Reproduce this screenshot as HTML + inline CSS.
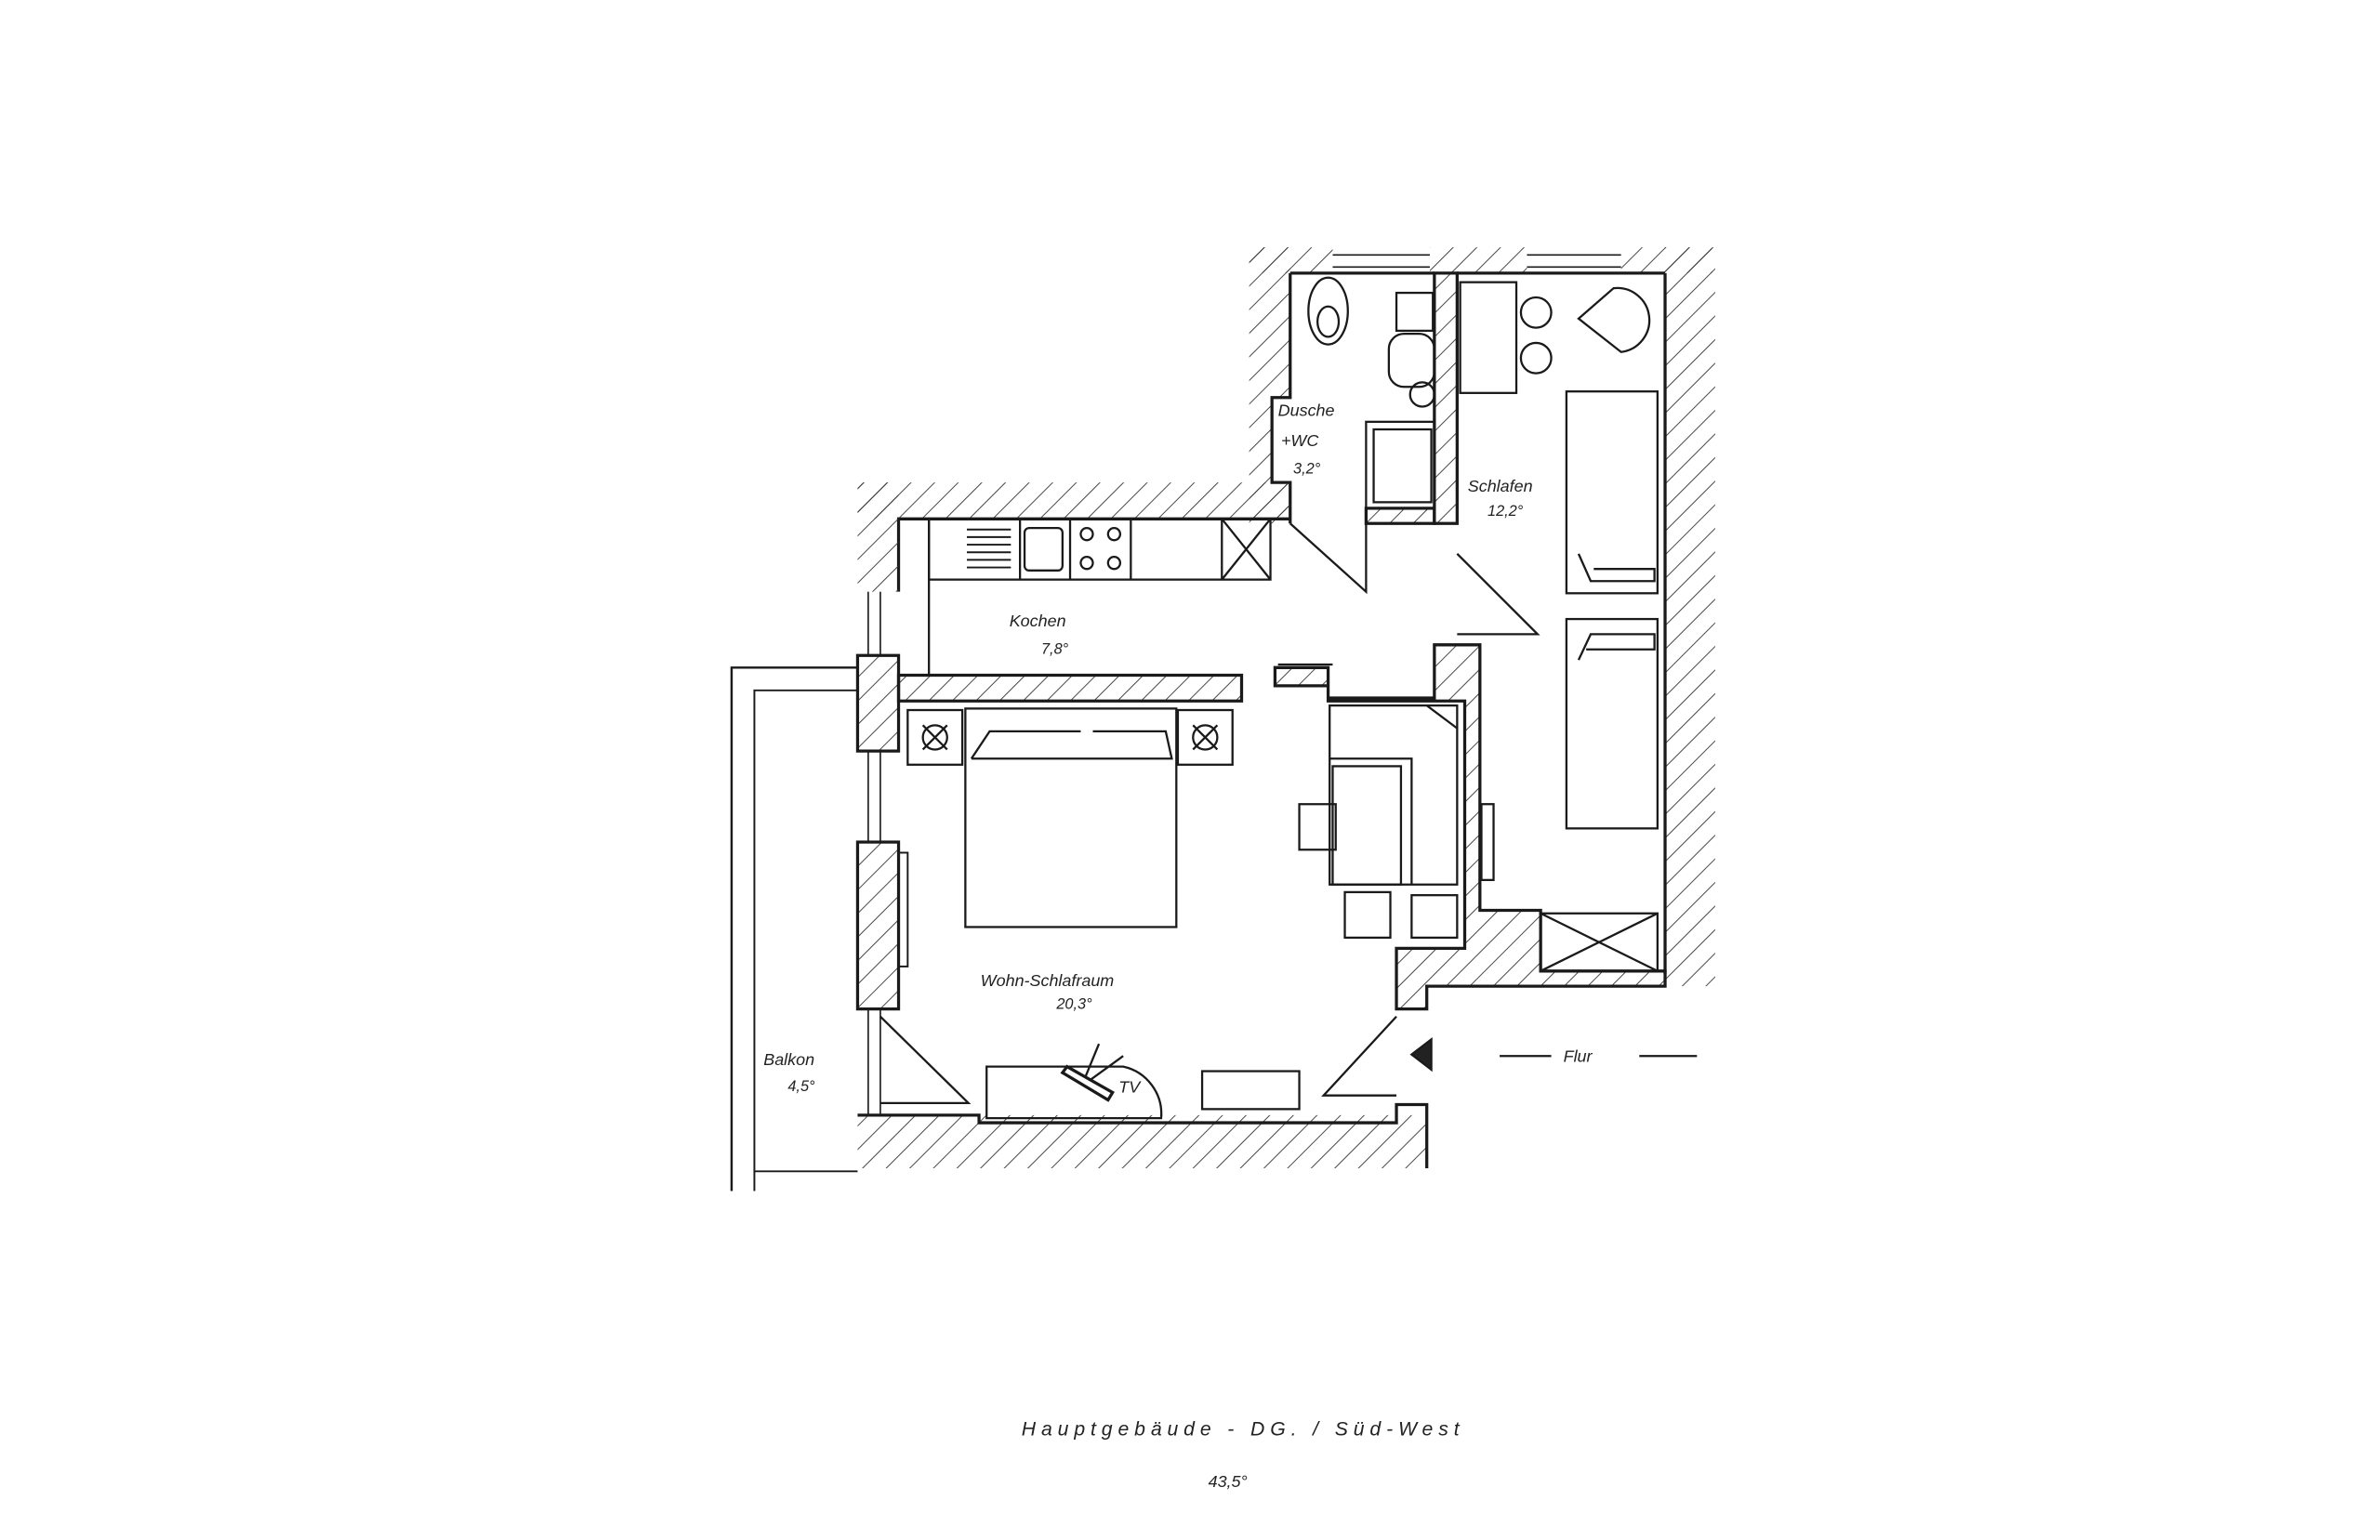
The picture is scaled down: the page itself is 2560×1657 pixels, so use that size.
<!DOCTYPE html>
<html><head><meta charset="utf-8"><style>
html,body{margin:0;padding:0;background:#fff;}
svg{display:block;}
text{font-family:"Liberation Sans",sans-serif;font-style:italic;fill:#222;}
</style></head><body>
<svg width="2560" height="1657" viewBox="0 0 1568 1015" preserveAspectRatio="none" xmlns="http://www.w3.org/2000/svg">
<defs>
<pattern id="h" width="11" height="11" patternUnits="userSpaceOnUse" patternTransform="rotate(45)">
<line x1="0" y1="0" x2="0" y2="11" stroke="#333" stroke-width="1.1"/>
</pattern>
</defs>
<rect width="1568" height="1015" fill="#fff"/>
<g stroke="#1a1a1a" stroke-width="2" fill="url(#h)">
<polygon points="823,163 850,163 850,180 850,262 838,262 838,318 850,318 850,345 823,345" stroke="none"/>
<polyline points="850,180 850,262 838,262 838,318 850,318 850,345" fill="none"/>
<rect x="823" y="163" width="55" height="17" stroke="none"/>
<rect x="942" y="163" width="64" height="17" stroke="none"/>
<rect x="1068" y="163" width="60" height="17" stroke="none"/>
<line x1="878" y1="168" x2="942" y2="168" stroke-width="1"/><line x1="878" y1="176" x2="942" y2="176" stroke-width="1"/>
<line x1="1006" y1="168" x2="1068" y2="168" stroke-width="1"/><line x1="1006" y1="176" x2="1068" y2="176" stroke-width="1"/>
<line x1="850" y1="180" x2="945" y2="180"/>
<line x1="960" y1="180" x2="1097" y2="180"/>
<rect x="1097" y="163" width="33" height="487" stroke="none"/>
<line x1="1097" y1="180" x2="1097" y2="642"/>
<rect x="945" y="180" width="15" height="165"/>
<rect x="900" y="335" width="45" height="10"/>
<rect x="565" y="318" width="285" height="24" stroke="none"/>
<polyline points="850,342 592,342 592,390" fill="none"/>
<rect x="565" y="318" width="27" height="72" stroke="none"/>
<rect x="565" y="432" width="27" height="63"/>
<rect x="565" y="555" width="27" height="110"/>
<line x1="572" y1="390" x2="572" y2="432" stroke-width="1"/><line x1="580" y1="390" x2="580" y2="432" stroke-width="1"/>
<line x1="572" y1="495" x2="572" y2="555" stroke-width="1"/><line x1="580" y1="495" x2="580" y2="555" stroke-width="1"/>
<line x1="572" y1="665" x2="572" y2="735" stroke-width="1"/><line x1="580" y1="665" x2="580" y2="735" stroke-width="1"/>
<rect x="592" y="562" width="6" height="75" fill="none" stroke-width="1.2"/>
<polygon points="592,445 818,445 818,462 592,462"/>
<polygon points="565,735 940,735 940,725 940,770 565,770" stroke="none"/>
<polyline points="565,735 645,735 645,740 920,740 920,728 940,728 940,770" fill="none"/>
<polygon points="840,440 875,440 875,460 945,460 945,425 975,425 975,600 1015,600 1015,640 1097,640 1097,650 940,650 940,665 920,665 920,625 965,625 965,462 875,462 875,452 840,452" />
<polyline points="482,785 482,440 565,440" fill="none" stroke-width="1.5"/>
<polyline points="497,785 497,455 565,455" fill="none" stroke-width="1.2"/>
<line x1="497" y1="772" x2="565" y2="772" stroke-width="1.2"/>
</g>
<g stroke="#1a1a1a" stroke-width="1.4" fill="none">
<ellipse cx="875" cy="205" rx="13" ry="22"/><ellipse cx="875" cy="212" rx="7" ry="10"/>
<rect x="920" y="193" width="24" height="25"/>
<rect x="915" y="220" width="30" height="35" rx="10"/>
<circle cx="937" cy="260" r="8"/>
<rect x="900" y="278" width="45" height="57"/><rect x="905" y="283" width="38" height="48"/>
<path d="M850,345 L900,390 L900,345"/>
<rect x="962" y="186" width="37" height="73"/>
<circle cx="1012" cy="206" r="10"/><circle cx="1012" cy="236" r="10"/>
<path d="M1040,210 L1063,190 A20,20 0 0 1 1068,232 Z"/>
<rect x="1032" y="258" width="60" height="133"/>
<path d="M1040,365 L1048,383 L1090,383 L1090,375 L1050,375"/>
<rect x="1032" y="408" width="60" height="138"/>
<path d="M1040,435 L1048,418 L1090,418 L1090,428 L1045,428"/>
<rect x="1015" y="602" width="77" height="38"/>
<path d="M1015,602 L1092,640 M1092,602 L1015,640"/>
<path d="M960,365 L1013,418 L960,418"/>
<rect x="976" y="530" width="8" height="50"/>
<rect x="612" y="342" width="225" height="40"/>
<line x1="612" y1="342" x2="612" y2="445"/>
<line x1="672" y1="342" x2="672" y2="382"/><line x1="705" y1="342" x2="705" y2="382"/>
<line x1="745" y1="342" x2="745" y2="382"/><line x1="805" y1="342" x2="805" y2="382"/>
<path d="M805,342 L837,382 M837,342 L805,382"/>
<rect x="675" y="348" width="25" height="28" rx="3"/>
<circle cx="716" cy="352" r="4"/><circle cx="734" cy="352" r="4"/><circle cx="716" cy="371" r="4"/><circle cx="734" cy="371" r="4"/>
<g stroke-width="1.2"><line x1="637" y1="349" x2="666" y2="349"/><line x1="637" y1="354" x2="666" y2="354"/><line x1="637" y1="359" x2="666" y2="359"/><line x1="637" y1="364" x2="666" y2="364"/><line x1="637" y1="369" x2="666" y2="369"/><line x1="637" y1="374" x2="666" y2="374"/></g>
<rect x="598" y="468" width="36" height="36"/><circle cx="616" cy="486" r="8"/><path d="M608,478 L624,494 M624,478 L608,494"/>
<rect x="776" y="468" width="36" height="36"/><circle cx="794" cy="486" r="8"/><path d="M786,478 L802,494 M802,478 L786,494"/>
<rect x="636" y="467" width="139" height="144"/>
<path d="M640,500 L652,482 L712,482 M720,482 L768,482 L772,500 L640,500"/>
<rect x="876" y="465" width="84" height="118"/>
<path d="M876,500 L930,500 L930,583 M940,465 L960,480"/>
<rect x="878" y="505" width="45" height="78"/>
<path d="M856,530 L880,530 L880,560 L856,560 Z"/>
<rect x="886" y="588" width="30" height="30"/><rect x="930" y="590" width="30" height="28"/>
<path d="M580,670 L638,727 L580,727"/>
<path d="M920,670 L872,722 L920,722"/>
<path d="M650,703 L740,703 A32,32 0 0 1 765,737 L650,737 Z"/>
<rect x="792" y="706" width="64" height="25"/>
<path d="M700,707 L730,725 L733,720 L703,703 Z" stroke-width="2"/>
<line x1="715" y1="710" x2="724" y2="688"/><line x1="718" y1="712" x2="740" y2="696"/>
<line x1="842" y1="438" x2="878" y2="438"/>
<polygon points="930,695 943,685 943,705" fill="#222"/>
<line x1="988" y1="696" x2="1022" y2="696"/><line x1="1080" y1="696" x2="1118" y2="696"/>
</g>
<g font-size="11">
<text x="842" y="274">Dusche</text>
<text x="844" y="294">+WC</text>
<text x="852" y="312" font-size="10">3,2°</text>
<text x="967" y="324">Schlafen</text>
<text x="980" y="340" font-size="10">12,2°</text>
<text x="665" y="413">Kochen</text>
<text x="686" y="431" font-size="10">7,8°</text>
<text x="646" y="650">Wohn-Schlafraum</text>
<text x="696" y="665" font-size="10">20,3°</text>
<text x="503" y="702">Balkon</text>
<text x="519" y="719" font-size="10">4,5°</text>
<text x="737" y="720">TV</text>
<text x="1030" y="700">Flur</text>
<text x="673" y="946" font-size="13" letter-spacing="3.6">Hauptgebäude - DG. / Süd-West</text>
<text x="796" y="980" font-size="11">43,5°</text>
</g>
</svg>
</body></html>
